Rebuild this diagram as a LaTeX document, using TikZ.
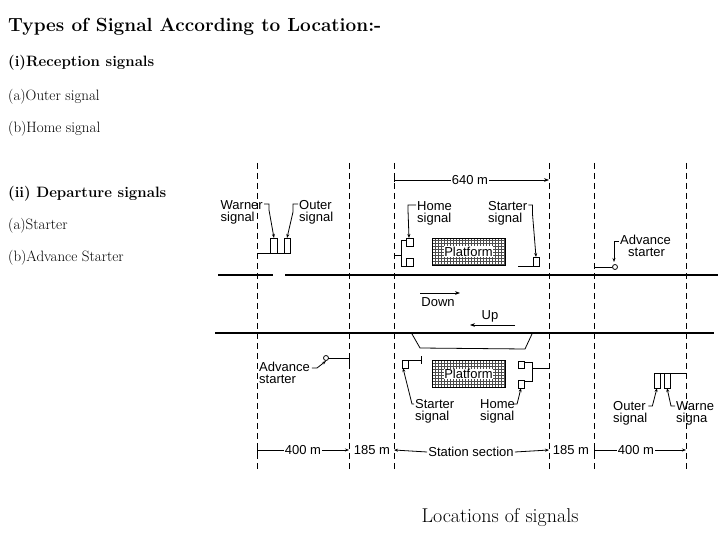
\documentclass[tikz,border=0pt]{standalone}
\usepackage{fontspec}
\setsansfont{Liberation Sans}
\usetikzlibrary{arrows.meta,patterns}
\begin{document}
\begin{tikzpicture}[x=1pt,y=-1pt,
  lbl/.style={font=\sffamily\fontsize{13}{12}\selectfont,align=left,inner sep=1pt},
  side/.style={font=\fontsize{15}{16}\selectfont,anchor=west,inner sep=0pt},
  dline/.style={dashed,dash pattern=on 6pt off 4pt,line width=0.7pt},
  trk/.style={line width=1.6pt},
  sig/.style={line width=0.8pt},
  plat/.style={draw,line width=0.8pt,pattern=grid,pattern color=black!70}]
\useasboundingbox (0,0) rectangle (720,540);
% side text
\node[side,font=\bfseries\fontsize{19}{20}\selectfont] (t) at (8,27) {Types of Signal According to Location:-};
\node[side,font=\bfseries\fontsize{15}{16}\selectfont] (r) at (8,63) {(i)Reception signals};
\node[side] (ra) at (8,97) {(a)Outer signal};
\node[side] (rb) at (8,129) {(b)Home signal};
\node[side,font=\bfseries\fontsize{15}{16}\selectfont] (d) at (8,194) {(ii) Departure signals};
\node[side] (da) at (8,226) {(a)Starter};
\node[side] (db) at (8,258) {(b)Advance Starter};
% dashed verticals
\foreach \x in {257,349,394,549,594,686}{\draw[dline] (\x,163) -- (\x,470);}
% tracks
\draw[trk] (218,275) -- (273,275);
\draw[trk] (285,275) -- (718,275);
\draw[trk] (215,333) -- (714,333);
% 640 m
\node[lbl,fill=white] (d640) at (470,180) {640 m};
\draw[-{Stealth[length=5pt]},sig] (d640.east) -- (549,180);
\draw[{Bar[width=5pt]}-,sig] (394,180) -- (d640.west);
% upper platform
\node[plat,minimum width=73pt,minimum height=27pt,inner sep=0pt] (pu) at (468.5,251.5) {};
\node[lbl,fill=white,inner sep=0.5pt] (pul) at (pu) {Platform};
% lower platform
\node[plat,minimum width=73pt,minimum height=27pt,inner sep=0pt] (pl) at (468.5,374) {};
\node[lbl,fill=white,inner sep=0.5pt] (pll) at (pl) {Platform};
% upper home
\draw[sig] (394,255) -- (401,255) (401,240) -- (401,266) -- (406,266) (401,240) -- (406,240);
\draw[sig] (406,238) rectangle (413,246) (406,258) rectangle (413,266);
\node[lbl,anchor=north west] (hu) at (416,200) {Home\\signal};
\draw[sig,-{Stealth[length=4pt]}] (hu.north west) ++(0,5) -- ++(-8,0) -- ++(0,5) -- (409,238);
% upper starter
\draw[sig] (518,266) -- (539,266);
\draw[sig] (533,257) rectangle (539,266);
\node[lbl,anchor=north west] (su) at (487,200) {Starter\\signal};
\draw[sig,-{Stealth[length=4pt]}] (su.north east) ++(0,5) -- ++(4,0) -- ++(0,8) -- (536,257);
% warner/outer upper
\draw[sig] (257,253) -- (290,253);
\draw[sig] (270,238) rectangle (277,253) (284,238) rectangle (290,253);
\node[lbl,anchor=north east] (wu) at (264,199) {Warner\\signal};
\node[lbl,anchor=north west] (ou) at (298,199) {Outer\\signal};
\draw[sig,-{Stealth[length=4pt]}] (wu.north east) ++(0,5) -- ++(5,0) -- ++(0,6) -- (274,238);
\draw[sig,-{Stealth[length=4pt]}] (ou.north west) ++(0,5) -- ++(-5,0) -- ++(0,8) -- (287,238);
% advance starter upper
\draw[sig] (594,267) -- (612,267);
\draw[sig] (615,267) circle (2.5pt);
\node[lbl,anchor=north west] (au) at (619,234) {Advance\\\hspace*{8pt}starter};
\draw[sig,-{Stealth[length=4pt]}] (au.north west) ++(0,7) -- ++(-5,0) -- (614,262);
% Down / Up
\node[lbl] (down) at (438,302) {Down};
\draw[sig,-{Stealth[length=5pt]}] (420,293) -- (460,293);
\node[lbl] (up) at (490,316) {Up};
\draw[sig,-{Stealth[length=5pt]}] (515,325) -- (470,325);
% loading shape
\draw[sig] (412,334) -- (420,348) -- (525,349) -- (532,334);
% lower starter
\draw[sig] (402,360) rectangle (408,368);
\draw[sig] (408,360) -- (421,360) (421,356) -- (421,364);
\node[lbl,anchor=north west] (sl) at (414,398) {Starter\\signal};
\draw[sig,-{Stealth[length=4pt]}] (sl.north west) ++(0,6) -- ++(-2,0) -- (403,368);
% lower home
\draw[sig] (518,361) rectangle (524,368) (518,380) rectangle (524,388);
\draw[sig] (524,362) -- (532,362) -- (532,381) -- (524,381) (532,368) -- (549,368);
\node[lbl,anchor=north west] (hl) at (479,398) {Home\\signal};
\draw[sig,-{Stealth[length=4pt]}] (hl.north east) ++(-3,6) -- ++(4,0) -- (521,388);
% lower advance starter
\draw[sig] (328,358) -- (349,358) (349,353) -- (349,363);
\draw[sig] (326,358) circle (2.5pt);
\node[lbl,anchor=north west] (al) at (258,361) {Advance\\starter};
\draw[sig,-{Stealth[length=4pt]}] (al.north east) ++(1,7) -- ++(5,0) -- (326,361);
% lower outer / warner
\draw[sig] (654,373) -- (686,373);
\draw[sig] (654,373) rectangle (660,388) (664,373) rectangle (670,388);
\node[lbl,anchor=north west] (ol) at (612,400) {Outer\\signal};
\node[lbl,anchor=north west] (wl) at (675,400) {Warne\\signa};
\draw[sig,-{Stealth[length=4pt]}] (ol.north east) ++(0,6) -- ++(4,0) -- (657,388);
\draw[sig,-{Stealth[length=4pt]}] (wl.north west) ++(0,6) -- ++(-4,0) -- (667,388);
% bottom dimensions
\node[lbl,fill=white] (b1) at (303,450) {400 m};
\node[lbl,fill=white] (b2) at (372,450) {185 m};
\node[lbl,fill=white] (b3) at (471,452) {Station section};
\node[lbl,fill=white] (b4) at (571,450) {185 m};
\node[lbl,fill=white] (b5) at (636,450) {400 m};
\draw[sig,{Bar[width=5pt]}-] (257,450) -- (b1.west);
\draw[sig,-{Stealth[length=4pt]}] (b1.east) -- (349,450);
\draw[sig,{Stealth[length=4pt]}-] (394,450) -- (b3.west);
\draw[sig,-{Stealth[length=4pt]}] (b3.east) -- (549,450);
\draw[sig,{Bar[width=5pt]}-] (594,450) -- (b5.west);
\draw[sig,-{Stealth[length=4pt]}] (b5.east) -- (686,450);
% caption
\node[font=\fontsize{20}{22}\selectfont] (cap) at (500,518) {Locations of signals};
\end{tikzpicture}
\end{document}
